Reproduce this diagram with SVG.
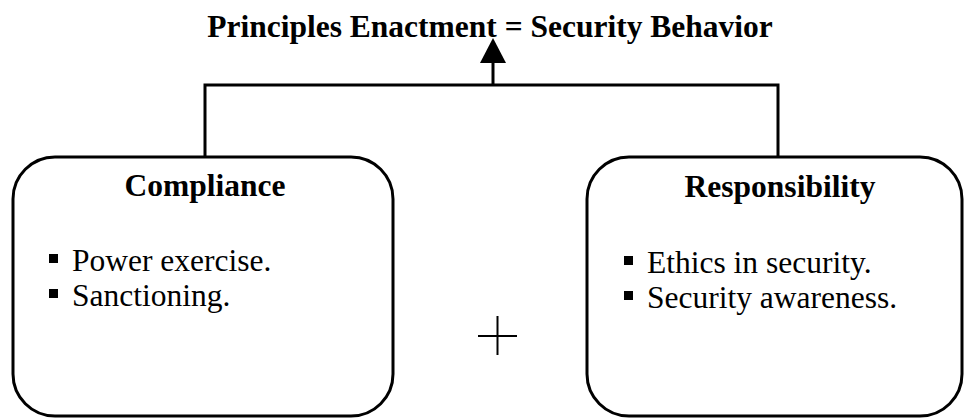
<svg xmlns="http://www.w3.org/2000/svg" width="964" height="418" viewBox="0 0 964 418">
<style>
.box{fill:#fff;stroke:#000;stroke-width:3}
.line{fill:none;stroke:#000;stroke-width:3}
.t{font-family:"Liberation Serif","Times New Roman",serif;fill:#000}
.h{font-weight:bold;font-size:31.5px}
.b{font-size:31.5px}
</style>
<text class="t h" x="490" y="37" text-anchor="middle">Principles Enactment = Security Behavior</text>
<g id="connectors">
<path class="line" d="M205,157 V85 H778 V157"/>
<line class="line" x1="493" y1="85" x2="493" y2="60"/>
<polygon points="493,38 480,63 506,63" fill="#000"/>
</g>
<g id="compliance">
<rect class="box" x="13" y="157" width="380" height="259" rx="42" ry="42"/>
<text class="t h" x="205" y="196" text-anchor="middle">Compliance</text>
<rect x="49" y="254" width="9" height="9" fill="#000"/>
<text class="t b" x="72" y="271">Power exercise.</text>
<rect x="49" y="289" width="9" height="9" fill="#000"/>
<text class="t b" x="72" y="306">Sanctioning.</text>
</g>
<g id="plus">
<line x1="478" y1="336" x2="517" y2="336" stroke="#000" stroke-width="2"/>
<line x1="497.5" y1="316" x2="497.5" y2="355" stroke="#000" stroke-width="2"/>
</g>
<g id="responsibility">
<rect class="box" x="587" y="157" width="375" height="259" rx="42" ry="42"/>
<text class="t h" x="780" y="197" text-anchor="middle">Responsibility</text>
<rect x="624" y="256" width="9" height="9" fill="#000"/>
<text class="t b" x="647" y="273">Ethics in security.</text>
<rect x="624" y="291" width="9" height="9" fill="#000"/>
<text class="t b" x="647" y="308">Security awareness.</text>
</g>
</svg>
